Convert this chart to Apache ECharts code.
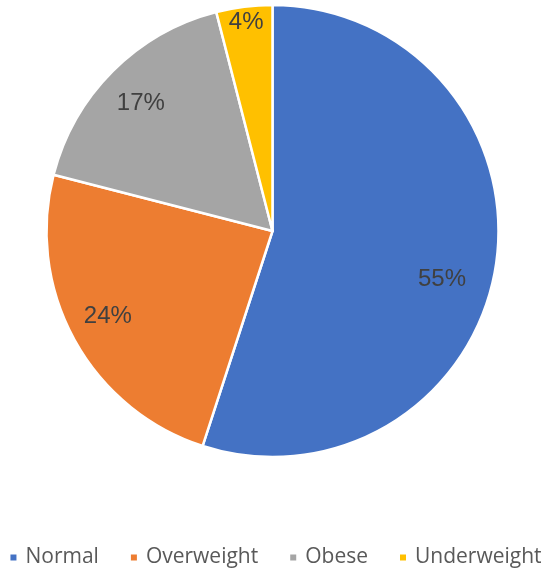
<!DOCTYPE html>
<html>
<head>
<meta charset="utf-8">
<title>BMI categories</title>
<script src="https://cdn.jsdelivr.net/npm/echarts@6/dist/echarts.min.js"></script>
<style>
  html, body { margin: 0; padding: 0; background: #fff; }
  #chart { width: 550px; height: 575px; }
</style>
</head>
<body>
<div id="chart"></div>
<script>
// data
var categories = ['Normal', 'Overweight', 'Obese', 'Underweight']
var shares = [55, 24, 17, 4]
var colors = ['#4472C4', '#ED7D31', '#A5A5A5', '#FFC000']

// pie geometry (px)
var CX = 272.5
var CY = 231
var R = 226
// label placement (Excel "best fit"): fraction of radius, and angle nudge in degrees
var labelReach = [0.78, 0.82, 0.81, 0.93]
var labelTurn = [7, 1.5, -1, 0]

// mid angle of each slice, degrees clockwise from 12 o'clock
var total = shares.reduce(function (a, b) { return a + b }, 0)
var midAngles = []
var acc = 0
shares.forEach(function (v) {
  midAngles.push((acc + v / 2) / total * 360)
  acc += v
})

var chart = echarts.init(document.getElementById('chart'), null, { renderer: 'canvas' })

chart.setOption({
  animation: false,
  color: colors,
  legend: {
    top: 542,
    left: 'center',
    icon: 'rect',
    itemWidth: 8,
    itemHeight: 8,
    itemGap: 30,
    data: categories,
    textStyle: {
      fontFamily: 'Open Sans',
      fontSize: 21,
      color: '#595959',
      padding: [0, 0, 0, 3]
    }
  },
  series: [{
    type: 'pie',
    center: [CX, CY],
    radius: [0, R],
    startAngle: 90,
    clockwise: true,
    itemStyle: {
      borderColor: '#fff',
      borderWidth: 2.5
    },
    label: {
      show: true,
      position: 'inside',
      formatter: '{c}%',
      fontFamily: 'Liberation Sans',
      fontSize: 24,
      color: '#404040'
    },
    labelLine: { show: false },
    labelLayout: function (params) {
      var i = params.dataIndex
      var a = (midAngles[i] + labelTurn[i]) * Math.PI / 180
      var d = labelReach[i] * R
      return {
        x: CX + Math.sin(a) * d,
        y: CY - Math.cos(a) * d,
        align: 'center',
        verticalAlign: 'middle'
      }
    },
    data: categories.map(function (name, i) {
      return { name: name, value: shares[i] }
    })
  }]
})
</script>
</body>
</html>
